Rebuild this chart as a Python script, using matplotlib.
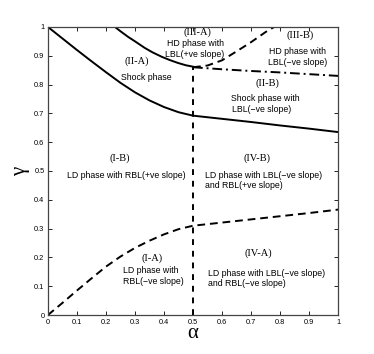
import numpy as np
import matplotlib.pyplot as plt

# boundary curves
shock_x = [0.0, 0.05, 0.1, 0.15, 0.2, 0.25, 0.3, 0.35, 0.4, 0.45, 0.5, 0.6, 0.7, 0.8, 0.9, 1.0]
shock_y = [1.0, 0.96, 0.92, 0.881, 0.843, 0.806, 0.773, 0.745, 0.722, 0.704, 0.692, 0.681, 0.67, 0.658, 0.647, 0.635]

hd_x = [0.231, 0.25, 0.277, 0.3, 0.334, 0.36, 0.393, 0.42, 0.448, 0.475, 0.5]
hd_y = [1.0, 0.985, 0.965, 0.95, 0.927, 0.912, 0.896, 0.885, 0.875, 0.867, 0.862]

hdb_x = [0.5, 0.55, 0.6, 0.65, 0.7, 0.75, 0.78]
hdb_y = [0.86, 0.866, 0.884, 0.915, 0.947, 0.982, 1.0]

dd_x = [0.5, 0.6, 0.7, 0.8, 0.9, 1.0]
dd_y = [0.86, 0.853, 0.847, 0.842, 0.836, 0.83]

ld_x = [0.0, 0.05, 0.1, 0.15, 0.2, 0.25, 0.3, 0.35, 0.4, 0.45, 0.5, 0.6, 0.7, 0.8, 0.9, 1.0]
ld_y = [0.0, 0.042, 0.085, 0.127, 0.168, 0.203, 0.233, 0.258, 0.28, 0.298, 0.31, 0.321, 0.332, 0.343, 0.354, 0.366]

vert_x = [0.5, 0.5]
vert_y = [0.0, 0.86]

ticks = [0, 0.1, 0.2, 0.3, 0.4, 0.5, 0.6, 0.7, 0.8, 0.9, 1.0]
tick_labels = ["0", "0.1", "0.2", "0.3", "0.4", "0.5", "0.6", "0.7", "0.8", "0.9", "1"]

serif = "Liberation Serif"
sans = "Liberation Sans"

fig = plt.figure(figsize=(3.74, 3.54), dpi=100)
ax = fig.add_axes([0.128, 0.110, 0.776, 0.814])

lw = 1.4
ax.plot(shock_x, shock_y, "k-", lw=lw)
ax.plot(hd_x, hd_y, "k-", lw=lw)
ax.plot(hdb_x, hdb_y, "k--", lw=lw, dashes=(4, 2.5))
ax.plot(dd_x, dd_y, "k-.", lw=lw, dashes=(5, 2, 1, 2))
ax.plot(ld_x, ld_y, "k--", lw=lw, dashes=(4, 2.5))
ax.plot(vert_x, vert_y, "k--", lw=lw, dashes=(3, 3))

ax.set_xlim(0, 1)
ax.set_ylim(0, 1)
ax.set_xticks(ticks)
ax.set_yticks(ticks)
ax.set_xticklabels(tick_labels)
ax.set_yticklabels(tick_labels)
ax.tick_params(direction="in", top=True, right=True, length=3, width=0.6, labelsize=5.3, pad=2.5)
for lab in ax.get_xticklabels() + ax.get_yticklabels():
    lab.set_family(sans)
for s in ax.spines.values():
    s.set_linewidth(0.9)
    s.set_color("#444444")

ax.set_xlabel("α", family=serif, fontsize=15, labelpad=-1)
ax.set_ylabel("γ", family=serif, fontsize=15, labelpad=3)

fs_r = 7.5
fs_t = 6.3
ax.text(0.514, 0.98, "(III-A)", family=serif, fontsize=fs_r, ha="center", va="center")
ax.text(0.51, 0.943, "HD phase with", family=sans, fontsize=fs_t, ha="center", va="center")
ax.text(0.505, 0.905, "LBL(+ve slope)", family=sans, fontsize=fs_t, ha="center", va="center")

ax.text(0.87, 0.972, "(III-B)", family=serif, fontsize=fs_r, ha="center", va="center")
ax.text(0.86, 0.914, "HD phase with", family=sans, fontsize=fs_t, ha="center", va="center")
ax.text(0.862, 0.878, "LBL(−ve slope)", family=sans, fontsize=fs_t, ha="center", va="center")

ax.text(0.307, 0.882, "(II-A)", family=serif, fontsize=fs_r, ha="center", va="center")
ax.text(0.338, 0.823, "Shock phase", family=sans, fontsize=fs_t, ha="center", va="center")

ax.text(0.758, 0.805, "(II-B)", family=serif, fontsize=fs_r, ha="center", va="center")
ax.text(0.748, 0.75, "Shock phase with", family=sans, fontsize=fs_t, ha="center", va="center")
ax.text(0.735, 0.715, "LBL(−ve slope)", family=sans, fontsize=fs_t, ha="center", va="center")

ax.text(0.248, 0.545, "(I-B)", family=serif, fontsize=fs_r, ha="center", va="center")
ax.text(0.27, 0.483, "LD phase with RBL(+ve slope)", family=sans, fontsize=fs_t, ha="center", va="center")

ax.text(0.72, 0.545, "(IV-B)", family=serif, fontsize=fs_r, ha="center", va="center")
ax.text(0.54, 0.483, "LD phase with LBL(−ve slope)", family=sans, fontsize=fs_t, ha="left", va="center")
ax.text(0.54, 0.448, "and RBL(+ve slope)", family=sans, fontsize=fs_t, ha="left", va="center")

ax.text(0.358, 0.198, "(I-A)", family=serif, fontsize=fs_r, ha="center", va="center")
ax.text(0.258, 0.153, "LD phase with", family=sans, fontsize=fs_t, ha="left", va="center")
ax.text(0.258, 0.118, "RBL(−ve slope)", family=sans, fontsize=fs_t, ha="left", va="center")

ax.text(0.725, 0.215, "(IV-A)", family=serif, fontsize=fs_r, ha="center", va="center")
ax.text(0.553, 0.143, "LD phase with LBL(−ve slope)", family=sans, fontsize=fs_t, ha="left", va="center")
ax.text(0.553, 0.108, "and RBL(−ve slope)", family=sans, fontsize=fs_t, ha="left", va="center")

fig.savefig("out.png", dpi=100)
